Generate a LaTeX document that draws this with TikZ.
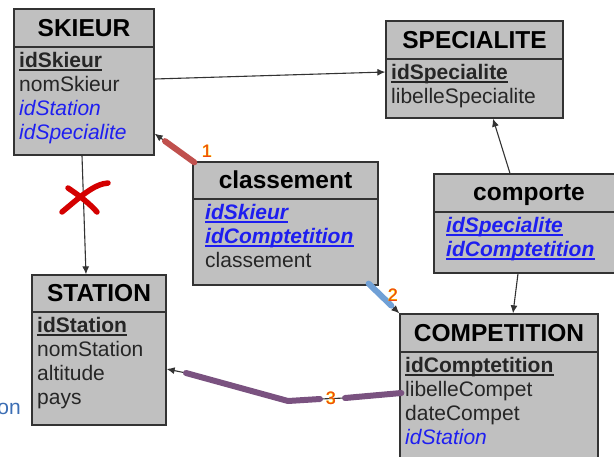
\documentclass[tikz,border=0pt]{standalone}
\usepackage{fontspec}
\setmainfont{Liberation Sans}
\usetikzlibrary{calc,arrows.meta}

\definecolor{boxgray}{RGB}{192,192,192}
\definecolor{boxline}{RGB}{51,51,51}
\definecolor{txtgray}{RGB}{38,38,38}
\definecolor{fkblue}{RGB}{30,30,240}
\definecolor{linkred}{RGB}{192,80,77}
\definecolor{linkblue}{RGB}{112,160,214}
\definecolor{linkpurple}{RGB}{122,82,128}
\definecolor{crossred}{RGB}{212,0,0}
\definecolor{numorange}{RGB}{238,70,20}
\definecolor{numglow}{RGB}{255,215,0}
\definecolor{cutblue}{RGB}{60,110,180}

\tikzset{
  entity/.style={draw=boxline, fill=boxgray, line width=1.3pt, inner sep=0pt},
  sepline/.style={draw=boxline, line width=1.3pt},
  etitle/.style={anchor=base, inner sep=0pt, font=\fontsize{24.5}{28}\selectfont\bfseries},
  field/.style={anchor=base west, inner sep=0pt, text=txtgray, font=\fontsize{21}{24}\selectfont},
  key/.style={field, font=\fontsize{21}{24}\selectfont\bfseries},
  fk/.style={field, text=fkblue, font=\fontsize{21}{24}\selectfont\itshape},
  keyfk/.style={field, text=fkblue, font=\fontsize{21}{24}\selectfont\bfseries\itshape},
  link/.style={draw=boxline, line width=1.1pt, -{Latex[length=8pt,width=7pt]}},
  heavy/.style={line width=6pt, line cap=round},
  num/.style={inner sep=0pt, text=numorange, font=\fontsize{18}{20}\selectfont},
  glow/.style={num, text=numglow, font=\fontsize{18}{20}\selectfont\bfseries},
  cross/.style={draw=crossred, line width=5.5pt, line cap=round}
}
\newcommand{\keyline}[2]{\draw[draw=#2, line width=1.7pt] ($(#1.base west)+(0,3)$) -- ($(#1.base east)+(0,3)$);}

\begin{document}
\begin{tikzpicture}[x=1pt, y=-1pt]
		\useasboundingbox (0,0) rectangle (614,456);
		\clip (0,0) rectangle (614,456);

		% SKIEUR
		\node[entity, minimum width=140pt, minimum height=146pt] (skieur) at (84,82) {};
		\draw[sepline] (14,47) -- (154,47);
		\node[etitle] (skieurT) at (84,36) {SKIEUR};
		\node[key] (idSkieur) at (19,67) {idSkieur};
		\node[field] (nomSkieur) at (19,91) {nomSkieur};
		\node[fk] (skieurStation) at (19,115) {idStation};
		\node[fk] (skieurSpec) at (19,139) {idSpecialite};
		\keyline{idSkieur}{txtgray}

		% SPECIALITE
		\node[entity, minimum width=177pt, minimum height=97pt] (specialite) at (474.5,69.5) {};
		\draw[sepline] (386,59) -- (563,59);
		\node[etitle] (specialiteT) at (474.5,48) {SPECIALITE};
		\node[key] (idSpecialite) at (391,79) {idSpecialite};
		\node[field] (libelleSpecialite) at (391,103) {libelleSpecialite};
		\keyline{idSpecialite}{txtgray}

		% classement
		\node[entity, minimum width=185pt, minimum height=123pt] (classement) at (285.5,223.5) {};
		\draw[sepline] (193,199) -- (378,199);
		\node[etitle] (classementT) at (285.5,188) {classement};
		\node[keyfk] (clSkieur) at (205,219) {idSkieur};
		\node[keyfk] (clCompet) at (205,243) {idComptetition};
		\node[field] (clRang) at (205,267) {classement};
		\keyline{clSkieur}{fkblue}
		\keyline{clCompet}{fkblue}

		% comporte
		\node[entity, minimum width=196pt, minimum height=99pt] (comporte) at (532,223.5) {};
		\draw[sepline] (434,212) -- (630,212);
		\node[etitle] (comporteT) at (529,200) {comporte};
		\node[keyfk] (coSpec) at (446,232) {idSpecialite};
		\node[keyfk] (coCompet) at (446,256) {idComptetition};
		\keyline{coSpec}{fkblue}
		\keyline{coCompet}{fkblue}

		% STATION
		\node[entity, minimum width=134pt, minimum height=150pt] (station) at (99,350) {};
		\draw[sepline] (32,312) -- (166,312);
		\node[etitle] (stationT) at (99,301) {STATION};
		\node[key] (idStation) at (37,332) {idStation};
		\node[field] (nomStation) at (37,356) {nomStation};
		\node[field] (altitude) at (37,380) {altitude};
		\node[field] (pays) at (37,404) {pays};
		\keyline{idStation}{txtgray}

		% COMPETITION
		\node[entity, minimum width=198pt, minimum height=166pt] (competition) at (499,397) {};
		\draw[sepline] (400,352) -- (598,352);
		\node[etitle] (competitionT) at (499,341) {COMPETITION};
		\node[key] (idComptetition) at (405,372) {idComptetition};
		\node[field] (libelleCompet) at (405,396) {libelleCompet};
		\node[field] (dateCompet) at (405,420) {dateCompet};
		\node[fk] (coStation) at (405,444) {idStation};
		\keyline{idComptetition}{txtgray}

		\node[anchor=base east, inner sep=0pt, text=cutblue, font=\fontsize{21}{24}\selectfont] (cut) at (21,414) {on};

		% links
		\draw[link] ([yshift=3pt]skieur.east) -- ([yshift=-2.5pt]specialite.west);
		\draw[link] ([xshift=-2pt]skieur.south) -- ([xshift=-13pt]station.north);
		\draw[link] ([xshift=-22pt]comporte.north) -- ([xshift=18.5pt]specialite.south);
		\draw[link] ([xshift=-14pt]comporte.south) -- ([xshift=14pt]competition.north);

		% 1
		\coordinate (redA) at ([xshift=2pt,yshift=-1pt]classement.north west);
		\coordinate (redB) at ([yshift=22pt]skieur.south east);
		\coordinate (redC) at ($(redA)!0.74!(redB)$);
		\draw[link] (redA) -- (redB);
		\draw[heavy, draw=linkred] (redA) -- (redC);
		\node[glow] (g1) at (207,151) {1};
		\node[num] (n1) at (207,151) {1};

		% 2
		\coordinate (blueA) at ([xshift=-10pt,yshift=2pt]classement.south east);
		\coordinate (blueC) at ($(blueA)!0.74!(competition.north west)$);
		\draw[link] (blueA) -- (competition.north west);
		\draw[heavy, draw=linkblue] (blueA) -- (blueC);
		\node[glow] (g2) at (393,295) {2};
		\node[num] (n2) at (393,295) {2};

		% 3
		\coordinate (purA) at ([xshift=2pt,yshift=4pt]competition.west);
		\coordinate (purB) at (345,398);
		\coordinate (purC) at (320,399);
		\coordinate (purD) at (288,401);
		\coordinate (purE) at (186,373);
		\draw[link] (purA) -- (purB) -- (purC) -- (purD) -- (purE) -- ([yshift=-19pt]station.east);
		\draw[heavy, draw=linkpurple] (purA) -- (purB);
		\draw[heavy, draw=linkpurple, line join=round] (purC) -- (purD) -- (purE);
		\node[glow] (g3) at (331,398) {3};
		\node[num] (n3) at (331,398) {3};

		% cross
		\draw[cross] (62,212) .. controls (80,197) and (94,184) .. (108,183);
		\draw[cross] (68,188) .. controls (80,196) and (90,204) .. (97,212);
\end{tikzpicture}
\end{document}
